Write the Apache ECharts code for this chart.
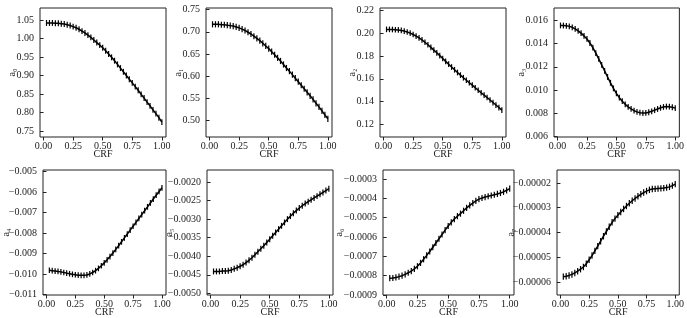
<!DOCTYPE html>
<html>
<head>
<meta charset="utf-8">
<script src="https://cdn.jsdelivr.net/npm/echarts@6/dist/echarts.min.js"></script>
<style>html,body{margin:0;padding:0;background:#fff}#c{width:687px;height:318px}</style>
</head>
<body>
<div id="c"></div>
<script>
// ---- data ----
const crf = [0.025,0.05,0.075,0.1,0.125,0.15,0.175,0.2,0.225,0.25,0.275,0.3,0.325,0.35,0.375,0.4,0.425,0.45,0.475,0.5,
             0.525,0.55,0.575,0.6,0.625,0.65,0.675,0.7,0.725,0.75,0.775,0.8,0.825,0.85,0.875,0.9,0.925,0.95,0.975,1.0];
const xTicks = [0, 0.25, 0.5, 0.75, 1.0];
const labelsY = ['a₀','a₁','a₂','a₃','a₄','a₅','a₆','a₇'];

const a0 = [1.042,1.042,1.042,1.041,1.041,1.040,1.039,1.037,1.035,1.032,1.029,1.025,1.020,1.015,1.009,1.003,0.996,0.989,0.982,0.975,
            0.967,0.958,0.949,0.940,0.930,0.920,0.910,0.900,0.890,0.880,0.870,0.860,0.849,0.839,0.828,0.818,0.807,0.797,0.786,0.774];
const a1 = [0.717,0.717,0.717,0.716,0.716,0.715,0.714,0.713,0.711,0.709,0.706,0.703,0.699,0.695,0.690,0.685,0.680,0.674,0.668,0.662,
            0.655,0.648,0.641,0.634,0.626,0.618,0.611,0.603,0.595,0.587,0.579,0.571,0.563,0.555,0.547,0.538,0.530,0.521,0.512,0.503];
const a2 = [0.2035,0.2035,0.2034,0.2032,0.2030,0.2026,0.2020,0.2012,0.2002,0.1990,0.1976,0.1960,0.1942,0.1922,0.1900,0.1877,0.1853,0.1829,0.1804,0.1779,
            0.1754,0.1729,0.1704,0.1680,0.1656,0.1633,0.1610,0.1588,0.1566,0.1545,0.1522,0.1500,0.1478,0.1457,0.1436,0.1414,0.1392,0.1370,0.1348,0.1325];
const a3 = [0.01556,0.01555,0.01553,0.01548,0.01540,0.01527,0.01510,0.01490,0.01466,0.01440,0.01405,0.01365,0.01318,0.01268,0.01217,0.01165,0.01113,0.01063,0.01015,0.00972,
            0.00935,0.00905,0.00878,0.00856,0.00838,0.00823,0.00813,0.00806,0.00803,0.00804,0.00810,0.00818,0.00828,0.00838,0.00848,0.00855,0.00859,0.00858,0.00853,0.00845];
const a4 = [-0.00982,-0.00984,-0.00986,-0.00988,-0.00990,-0.00993,-0.00996,-0.00999,-0.01002,-0.01004,-0.01006,-0.01007,-0.01007,-0.01005,-0.01000,-0.00993,-0.00984,-0.00973,-0.00960,-0.00946,
            -0.00931,-0.00915,-0.00898,-0.00880,-0.00862,-0.00843,-0.00824,-0.00805,-0.00786,-0.00767,-0.00748,-0.00729,-0.00710,-0.00691,-0.00672,-0.00653,-0.00634,-0.00615,-0.00597,-0.00579];
const a5 = [-0.00441,-0.00441,-0.00441,-0.00440,-0.00440,-0.00439,-0.00437,-0.00434,-0.00431,-0.00427,-0.00423,-0.00417,-0.00411,-0.00404,-0.00396,-0.00388,-0.00380,-0.00372,-0.00363,-0.00354,
            -0.00345,-0.00336,-0.00327,-0.00318,-0.00309,-0.00300,-0.00292,-0.00284,-0.00277,-0.00270,-0.00264,-0.00258,-0.00253,-0.00248,-0.00243,-0.00238,-0.00233,-0.00228,-0.00223,-0.00218];
const a6 = [-0.000813,-0.000812,-0.000809,-0.000805,-0.000800,-0.000793,-0.000785,-0.000776,-0.000765,-0.000751,-0.000734,-0.000715,-0.000695,-0.000675,-0.000653,-0.000631,-0.000609,-0.000587,-0.000564,-0.000543,
            -0.000524,-0.000507,-0.000492,-0.000479,-0.000464,-0.000449,-0.000436,-0.000424,-0.000413,-0.000404,-0.000398,-0.000393,-0.000389,-0.000385,-0.000381,-0.000377,-0.000372,-0.000366,-0.000358,-0.000349];
const a7 = [-0.0000578,-0.0000576,-0.0000573,-0.0000569,-0.0000563,-0.0000556,-0.0000548,-0.0000539,-0.0000526,-0.0000510,-0.0000493,-0.0000474,-0.0000455,-0.0000435,-0.0000415,-0.0000396,-0.0000377,-0.0000359,-0.0000344,-0.0000330,
            -0.0000317,-0.0000305,-0.0000293,-0.0000282,-0.0000272,-0.0000263,-0.0000254,-0.0000246,-0.0000239,-0.0000233,-0.0000228,-0.0000225,-0.0000224,-0.0000223,-0.0000222,-0.0000221,-0.0000219,-0.0000216,-0.0000211,-0.0000205];
// half-length of error bars per coefficient
const errs = [0.008, 0.007, 0.0025, 0.00025, 0.00014, 0.00008, 0.000016, 0.0000013];

const yTicks = [
  [0.75,0.80,0.85,0.90,0.95,1.00,1.05],
  [0.50,0.55,0.60,0.65,0.70,0.75],
  [0.12,0.14,0.16,0.18,0.20,0.22],
  [0.006,0.008,0.010,0.012,0.014,0.016],
  [-0.011,-0.010,-0.009,-0.008,-0.007,-0.006,-0.005],
  [-0.0050,-0.0045,-0.0040,-0.0035,-0.0030,-0.0025,-0.0020],
  [-0.0009,-0.0008,-0.0007,-0.0006,-0.0005,-0.0004,-0.0003],
  [-0.00006,-0.00005,-0.00004,-0.00003,-0.00002]
];
const yDecimals = [2,2,2,3,3,4,4,5];
const series = [a0,a1,a2,a3,a4,a5,a6,a7];

// ---- layout (pixels) ----
const boxes = [
  {l:40, t:8, r:166, b:137, ymin:0.7338, ymax:1.0824, gap:23},
  {l:206, t:8, r:332, b:137, ymin:0.4618, ymax:0.7539, gap:23},
  {l:380, t:8, r:506, b:137, ymin:0.1089, ymax:0.2223, gap:23},
  {l:554, t:8, r:683, b:137, ymin:0.00597, ymax:0.01706, gap:28},
  {l:40, t:170, r:166, b:299, ymin:-0.01103, ymax:-0.00492, gap:32},
  {l:207, t:170, r:333, b:299, ymin:-0.005045, ymax:-0.001676, gap:33},
  {l:383, t:170, r:514, b:299, ymin:-0.0009, ymax:-0.000253, gap:39},
  {l:557, t:170, r:685, b:299, ymin:-0.0000652, ymax:-0.0000148, gap:41}
];
const W = 687, H = 318;
const FONT = '"Liberation Serif","DejaVu Serif",serif';
const fmt = d => v => (v < 0 ? '\u2212' : '') + Math.abs(v).toFixed(d);

const grid = [], xAxis = [], yAxis = [], ser = [];
boxes.forEach((bx, i) => {
  grid.push({left: bx.l, top: bx.t, width: bx.r - bx.l, height: bx.b - bx.t,
             show: true, borderColor: '#222', borderWidth: 1, containLabel: false});
  xAxis.push({type: 'value', gridIndex: i, min: -0.03, max: 1.035,
    splitLine: {show: false}, axisLine: {show: false},
    axisTick: {show: true, length: 3.5, lineStyle: {color: '#222'}, customValues: xTicks},
    axisLabel: {customValues: xTicks, formatter: fmt(2), margin: 4, color: '#222', fontFamily: FONT, fontSize: 10},
    name: 'CRF', nameLocation: 'middle', nameGap: 12, nameMoveOverlap: false,
    nameTextStyle: {fontFamily: FONT, fontSize: 10, color: '#222', verticalAlign: 'top'}});
  yAxis.push({type: 'value', gridIndex: i, min: bx.ymin, max: bx.ymax,
    splitLine: {show: false}, axisLine: {show: false},
    axisTick: {show: true, length: 3.5, lineStyle: {color: '#222'}, customValues: yTicks[i]},
    axisLabel: {customValues: yTicks[i], formatter: fmt(yDecimals[i]), margin: 6, color: '#222', fontFamily: FONT, fontSize: 10},
    name: labelsY[i], nameLocation: 'middle', nameRotate: 90, nameGap: bx.gap, nameMoveOverlap: false,
    nameTextStyle: {fontFamily: FONT, fontSize: 10, color: '#222'}});
  const ys = series[i], e = errs[i];
  ser.push({type: 'line', xAxisIndex: i, yAxisIndex: i, showSymbol: false, symbol: 'none',
    data: crf.map((x, j) => [x, ys[j]]), lineStyle: {color: '#000', width: 1.5}, animation: false, z: 3});
  ser.push({type: 'custom', xAxisIndex: i, yAxisIndex: i, animation: false, z: 4,
    data: crf.map((x, j) => [x, ys[j] - e, ys[j] + e]),
    encode: {x: 0, y: [1, 2]},
    renderItem: (params, api) => {
      const p1 = api.coord([api.value(0), api.value(1)]);
      const p2 = api.coord([api.value(0), api.value(2)]);
      return {type: 'line', shape: {x1: p1[0], y1: p1[1], x2: p2[0], y2: p2[1]},
              style: {stroke: '#000', lineWidth: 1.2}};
    }});
});

const chart = echarts.init(document.getElementById('c'), null, {renderer: 'canvas', width: W, height: H});
chart.setOption({animation: false, backgroundColor: '#fff', grid, xAxis, yAxis, series: ser});
</script>
</body>
</html>
